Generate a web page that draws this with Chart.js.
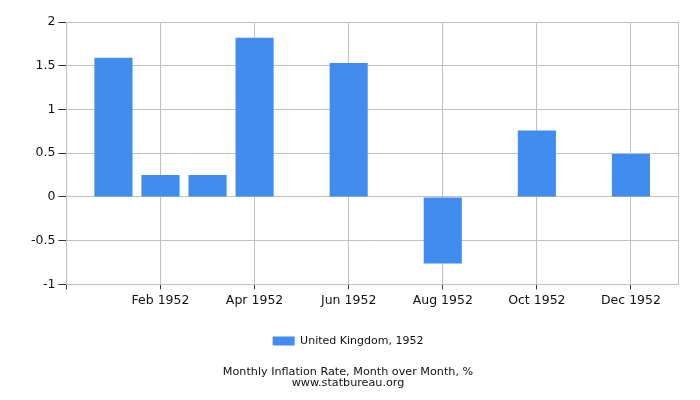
<!DOCTYPE html>
<html>
<head>
<meta charset="utf-8">
<script src="https://cdn.jsdelivr.net/npm/chart.js@4/dist/chart.umd.min.js"></script>
<style>
  html, body { margin: 0; padding: 0; background: #fff; }
  #wrap { width: 700px; height: 400px; }
</style>
</head>
<body>
<div id="wrap"><canvas id="grafica"></canvas></div>
<script>
// Datos
var meses = ['Jan 1952', 'Feb 1952', 'Mar 1952', 'Apr 1952', 'May 1952', 'Jun 1952',
             'Jul 1952', 'Aug 1952', 'Sep 1952', 'Oct 1952', 'Nov 1952', 'Dec 1952'];
var valores = [1.59, 0.25, 0.25, 1.82, 0, 1.53, 0, -0.76, 0, 0.76, 0, 0.49];
var serie = 'United Kingdom, 1952';
var titulo = ['Monthly Inflation Rate, Month over Month, %', 'www.statbureau.org'];
var yMin = -1, yMax = 2, yPaso = 0.5;

// una categoría vacía a cada lado, como en el original
var etiquetas = [''].concat(meses, ['']);
var datos = [null].concat(valores, [null]);
var ultimo = etiquetas.length - 1;

var gris = '#c0c0c0';
var marca = '#333333';
Chart.defaults.font.family = '"DejaVu Sans", Verdana, sans-serif';
Chart.defaults.color = '#111';

function graficaBarras(id) {
    var ctx = document.getElementById(id).getContext('2d');
    return new Chart(ctx, {
        type: 'bar',
        data: {
            labels: etiquetas,
            datasets: [{
                label: serie,
                data: datos,
                backgroundColor: '#418CEF',
                borderWidth: 0,
                categoryPercentage: 0.9,
                barPercentage: 0.9
            }]
        },
        options: {
            responsive: true,
            maintainAspectRatio: false,
            animation: false,
            layout: { padding: { left: 18, right: 22, top: 22, bottom: 6 } },
            scales: {
                x: {
                    offset: false,
                    grid: {
                        offset: false,
                        color: function (c) {
                            return (c.index % 2 === 0 || c.index === ultimo) ? gris : 'rgba(0,0,0,0)';
                        },
                        tickColor: function (c) {
                            return (c.index % 2 === 0 && c.index < ultimo) ? marca : 'rgba(0,0,0,0)';
                        },
                        tickLength: 5
                    },
                    border: { color: gris },
                    ticks: {
                        autoSkip: false,
                        maxRotation: 0,
                        padding: 4,
                        font: { size: 12.5 },
                        callback: function (v, i) {
                            return (i % 2 === 0 && i > 0 && i < ultimo) ? etiquetas[i] : '';
                        }
                    }
                },
                y: {
                    min: yMin,
                    max: yMax,
                    // el eje es un poco más ancho que sus etiquetas
                    afterFit: function (s) { s.width += 10; },
                    grid: { color: gris, tickColor: marca, tickLength: 8 },
                    border: { color: gris },
                    ticks: {
                        stepSize: yPaso,
                        padding: 3,
                        font: { size: 12.5 },
                        callback: function (v) { return String(Number(v)); }
                    }
                }
            },
            plugins: {
                legend: {
                    position: 'bottom',
                    labels: { boxWidth: 22, boxHeight: 9, font: { size: 11 }, padding: 23 }
                },
                title: {
                    display: true,
                    position: 'bottom',
                    text: titulo,
                    font: { size: 11.2, weight: 'normal', lineHeight: 0.92 },
                    padding: { top: 11, bottom: 6 }
                },
                tooltip: { enabled: false }
            }
        }
    });
}

graficaBarras('grafica');
</script>
</body>
</html>
